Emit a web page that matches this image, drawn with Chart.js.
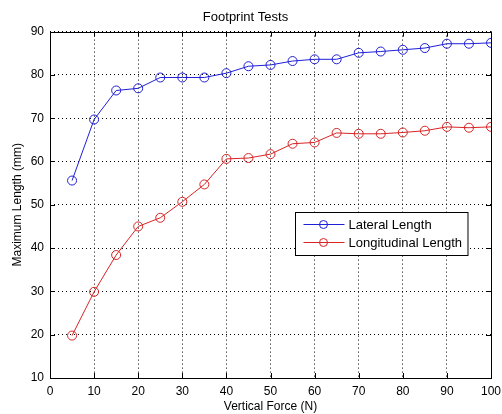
<!DOCTYPE html>
<html>
<head>
<meta charset="utf-8">
<script src="https://cdn.jsdelivr.net/npm/chart.js@4/dist/chart.umd.min.js"></script>
<style>
  html, body { margin: 0; padding: 0; background: #fff; }
  #wrap { width: 502px; height: 414px; position: relative; }
</style>
</head>
<body>
<div id="wrap"><canvas id="footprintChart"></canvas></div>
<script>
// Data
const forces = [5, 10, 15, 20, 25, 30, 35, 40, 45, 50, 55, 60, 65, 70, 75, 80, 85, 90, 95, 100];
const lateralLength = [55.6, 69.7, 76.4, 76.9, 79.4, 79.4, 79.4, 80.4, 82.0, 82.3, 83.2, 83.6, 83.6, 85.1, 85.4, 85.8, 86.2, 87.2, 87.2, 87.4];
const longitudinalLength = [19.8, 29.9, 38.4, 45.0, 47.0, 50.7, 54.7, 60.6, 60.8, 61.7, 64.1, 64.4, 66.6, 66.4, 66.4, 66.7, 67.1, 68.0, 67.8, 68.0];
const xTicks = [0, 10, 20, 30, 40, 50, 60, 70, 80, 90, 100];
const yTicks = [10, 20, 30, 40, 50, 60, 70, 80, 90];

const FONT = "'Liberation Sans', Arial, sans-serif";
const BLUE = "#1f1fd8";
const RED = "#d82424";

const toPoints = (ys) => forces.map((f, i) => ({ x: f, y: ys[i] }));

// box frame, inward ticks and the in-plot legend (MATLAB look)
const matlabFrame = {
    id: "matlabFrame",
    afterDraw(chart) {
        const { ctx, chartArea: a, scales } = chart;
        ctx.save();
        ctx.strokeStyle = "#000";
        ctx.lineWidth = 1;
        ctx.setLineDash([]);
        ctx.strokeRect(Math.round(a.left) + 0.5, Math.round(a.top) + 0.5,
            Math.round(a.right - a.left), Math.round(a.bottom - a.top));

        ctx.beginPath();
        xTicks.forEach(v => {
            const px = Math.round(scales.x.getPixelForValue(v)) + 0.5;
            ctx.moveTo(px, a.bottom); ctx.lineTo(px, a.bottom - 5);
            ctx.moveTo(px, a.top); ctx.lineTo(px, a.top + 5);
        });
        yTicks.forEach(v => {
            const py = Math.round(scales.y.getPixelForValue(v)) + 0.5;
            ctx.moveTo(a.left, py); ctx.lineTo(a.left + 5, py);
            ctx.moveTo(a.right, py); ctx.lineTo(a.right - 5, py);
        });
        ctx.stroke();

        // legend
        ctx.font = "13px " + FONT;
        const sets = chart.data.datasets;
        const textW = Math.max(...sets.map(d => ctx.measureText(d.label).width));
        const w = 53 + textW + 6;
        const h = 43;
        const x0 = Math.round(a.right - 24 - w) + 0.5;
        const y0 = Math.round(a.top + 180) + 0.5;
        ctx.fillStyle = "#fff";
        ctx.fillRect(x0, y0, w, h);
        ctx.strokeStyle = "#000";
        ctx.strokeRect(x0, y0, w, h);
        sets.forEach((d, i) => {
            const cy = y0 + 12 + i * 18;
            ctx.strokeStyle = d.borderColor;
            ctx.beginPath();
            ctx.moveTo(x0 + 8, cy); ctx.lineTo(x0 + 49, cy);
            ctx.stroke();
            ctx.beginPath();
            ctx.arc(x0 + 28, cy, 4, 0, Math.PI * 2);
            ctx.stroke();
            ctx.fillStyle = "#000";
            ctx.textBaseline = "middle";
            ctx.fillText(d.label, x0 + 53, cy + 1);
        });
        ctx.restore();
    }
};

new Chart(document.getElementById("footprintChart"), {
    type: "line",
    data: {
        datasets: [
            {
                label: "Lateral Length",
                data: toPoints(lateralLength),
                borderColor: BLUE,
                borderWidth: 1,
                pointRadius: 4.5,
                pointBorderWidth: 1,
                pointBackgroundColor: "rgba(0,0,0,0)",
                pointBorderColor: BLUE,
                tension: 0
            },
            {
                label: "Longitudinal Length",
                data: toPoints(longitudinalLength),
                borderColor: RED,
                borderWidth: 1,
                pointRadius: 4.5,
                pointBorderWidth: 1,
                pointBackgroundColor: "rgba(0,0,0,0)",
                pointBorderColor: RED,
                tension: 0
            }
        ]
    },
    plugins: [matlabFrame],
    options: {
        responsive: true,
        maintainAspectRatio: false,
        animation: false,
        layout: { padding: { top: 0, right: 11, bottom: 0, left: 0 } },
        plugins: {
            legend: { display: false },
            tooltip: { enabled: false },
            title: {
                display: true,
                text: "Footprint Tests",
                color: "#000",
                font: { family: FONT, size: 13, weight: "normal" },
                padding: { top: 10, bottom: 6 }
            }
        },
        scales: {
            x: {
                type: "linear",
                min: 0,
                max: 100,
                afterBuildTicks: s => { s.ticks = xTicks.map(v => ({ value: v })); },
                afterFit: s => { s.height = 36; s.paddingLeft = 0; s.paddingRight = 0; },
                grid: { color: "#000", drawTicks: false },
                border: { display: false, dash: [1, 3] },
                ticks: { color: "#000", padding: 6, maxRotation: 0, font: { family: FONT, size: 12 } },
                title: {
                    display: true,
                    text: "Vertical Force (N)",
                    color: "#000",
                    padding: { top: 0, bottom: 0 },
                    font: { family: FONT, size: 12 }
                }
            },
            y: {
                min: 10,
                max: 90,
                afterBuildTicks: s => { s.ticks = yTicks.map(v => ({ value: v })); },
                afterFit: s => { s.width = 50; },
                grid: { color: "#000", drawTicks: false },
                border: { display: false, dash: [1, 3] },
                ticks: { color: "#000", padding: 6, font: { family: FONT, size: 12 } },
                title: {
                    display: true,
                    text: "Maximum Length (mm)",
                    color: "#000",
                    padding: { top: 10, bottom: 0 },
                    font: { family: FONT, size: 12 }
                }
            }
        }
    }
});
</script>
</body>
</html>
